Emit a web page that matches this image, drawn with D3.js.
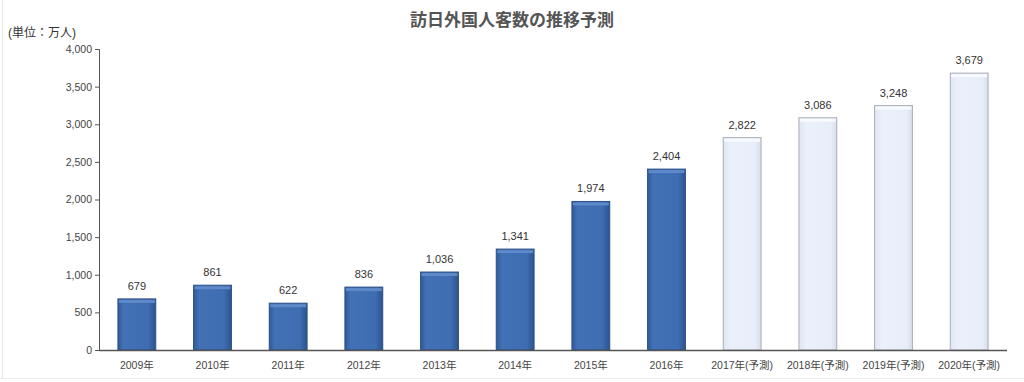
<!DOCTYPE html>
<html>
<head>
<meta charset="utf-8">
<script src="https://cdn.jsdelivr.net/npm/d3@7"></script>
<style>
  body { margin: 0; background: #fff; }
  text { font-family: "Liberation Sans", "Noto Sans CJK JP", sans-serif; }
</style>
</head>
<body>
<div class="board"></div>
<script>
  const width = 1024;
  const height = 382;

  // data
  const years = ["2009年", "2010年", "2011年", "2012年", "2013年", "2014年", "2015年", "2016年",
                 "2017年(予測)", "2018年(予測)", "2019年(予測)", "2020年(予測)"];
  const visitors = [679, 861, 622, 836, 1036, 1341, 1974, 2404, 2822, 3086, 3248, 3679];
  const isForecast = [false, false, false, false, false, false, false, false, true, true, true, true];
  const yTicks = [0, 500, 1000, 1500, 2000, 2500, 3000, 3500, 4000];

  const margin = { top: 49, right: 17, bottom: 32, left: 99 };

  const svg = d3.select(".board")
                .append("svg")
                .attr("width", width)
                .attr("height", height);

  const defs = svg.append("defs");
  const gBlue = defs.append("linearGradient").attr("id", "gBlue");
  gBlue.append("stop").attr("offset", "0%").attr("stop-color", "#2f5a98");
  gBlue.append("stop").attr("offset", "15%").attr("stop-color", "#4271b6");
  gBlue.append("stop").attr("offset", "80%").attr("stop-color", "#3f6db2");
  gBlue.append("stop").attr("offset", "100%").attr("stop-color", "#2c548e");
  const gLight = defs.append("linearGradient").attr("id", "gLight");
  gLight.append("stop").attr("offset", "0%").attr("stop-color", "#dfe6f3");
  gLight.append("stop").attr("offset", "20%").attr("stop-color", "#ebf0fb");
  gLight.append("stop").attr("offset", "85%").attr("stop-color", "#e8eef9");
  gLight.append("stop").attr("offset", "100%").attr("stop-color", "#d6dce8");

  // faint frame lines
  svg.append("line").attr("x1", 2.5).attr("x2", 2.5).attr("y1", 0).attr("y2", 378)
     .attr("stroke", "#e6e6e6");
  svg.append("line").attr("x1", 0).attr("x2", width).attr("y1", 378.5).attr("y2", 378.5)
     .attr("stroke", "#ececec");

  const x = d3.scaleBand()
              .domain(years)
              .range([margin.left, width - margin.right])
              .paddingInner(0.5)
              .paddingOuter(0.25);

  const y = d3.scaleLinear()
              .domain([0, 4000])
              .range([height - margin.bottom, margin.top]);

  // bars
  const rows = years.map((d, i) => ({ year: d, value: visitors[i], forecast: isForecast[i] }));

  const bars = svg.selectAll(".bar")
                  .data(rows)
                  .enter()
                  .append("g")
                  .attr("class", "bar");

  bars.append("rect")
      .attr("x", d => x(d.year))
      .attr("y", d => y(d.value))
      .attr("width", x.bandwidth())
      .attr("height", d => y(0) - y(d.value))
      .attr("fill", d => d.forecast ? "url(#gLight)" : "url(#gBlue)")
      .attr("stroke", d => d.forecast ? "#a9adb5" : "#2b4f86")
      .attr("stroke-width", 1);

  // top highlight
  bars.append("rect")
      .attr("x", d => x(d.year) + 1)
      .attr("y", d => y(d.value) + 1)
      .attr("width", x.bandwidth() - 2)
      .attr("height", 3)
      .attr("fill", d => d.forecast ? "#f8faff" : "#5f89c8");

  bars.append("text")
      .attr("x", d => x(d.year) + x.bandwidth() / 2)
      .attr("y", d => y(d.value) - 9)
      .attr("text-anchor", "middle")
      .attr("font-size", 11)
      .attr("fill", "#333")
      .text(d => d3.format(",")(d.value));

  // axes
  const yAxis = svg.append("g")
                   .attr("transform", `translate(${margin.left},0)`)
                   .call(d3.axisLeft(y).tickValues(yTicks).tickSize(4).tickFormat(d3.format(",")));
  yAxis.select(".domain").attr("stroke", "#555");
  yAxis.selectAll(".tick line").attr("stroke", "#555");
  yAxis.selectAll("text").attr("font-size", 10.5).attr("fill", "#444")
       .attr("font-family", "Liberation Sans, sans-serif");

  const xAxis = svg.append("g")
                   .attr("transform", `translate(0,${y(0)})`)
                   .call(d3.axisBottom(x).tickSize(0).tickPadding(12));
  xAxis.select(".domain").attr("stroke", "#555").attr("stroke-width", 1.3)
       .attr("d", `M${margin.left},0.5H${width - margin.right}`);
  xAxis.selectAll("text").attr("font-size", 10.5).attr("fill", "#444")
       .attr("font-family", "Liberation Sans, Noto Sans CJK JP, sans-serif");

  // titles
  svg.append("text")
     .attr("x", 512)
     .attr("y", 26)
     .attr("text-anchor", "middle")
     .attr("font-size", 17)
     .attr("font-weight", "bold")
     .attr("fill", "#555")
     .attr("font-family", "Noto Sans CJK JP, sans-serif")
     .text("訪日外国人客数の推移予測");

  svg.append("text")
     .attr("x", 8)
     .attr("y", 37)
     .attr("font-size", 12)
     .attr("fill", "#333")
     .text("(単位：万人)");
</script>
</body>
</html>
